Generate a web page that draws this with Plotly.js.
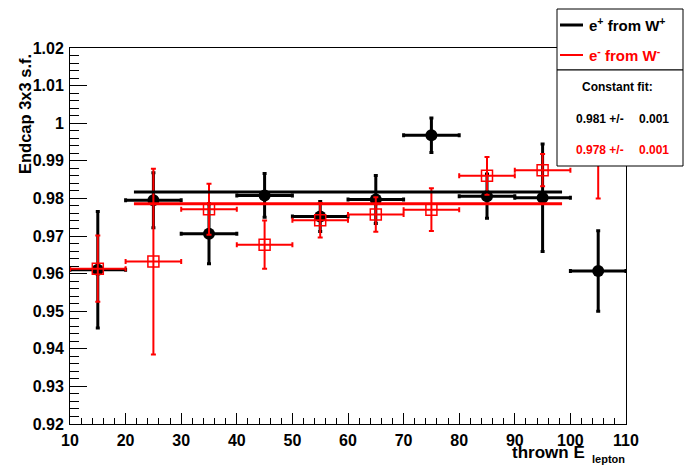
<!DOCTYPE html>
<html>
<head>
<meta charset="utf-8">
<script src="https://cdn.plot.ly/plotly-3.0.1.min.js"></script>
<style>html,body{margin:0;padding:0;background:#fff;}#chart{width:696px;height:472px;}</style>
</head>
<body>
<div id="chart"></div>
<script>
// ---- data ----
const binCenters = [15, 25, 35, 45, 55, 65, 75, 85, 95, 105];
const binHalfWidths = [5, 5, 5, 5, 5, 5, 5, 5, 5, 5];
const ePlusValues = [0.9610, 0.9795, 0.9706, 0.9808, 0.9752, 0.9797, 0.9968, 0.9806, 0.9802, 0.9607];
const ePlusErrors = [0.0155, 0.0073, 0.0080, 0.0058, 0.0040, 0.0064, 0.0046, 0.0059, 0.0143, 0.0107];
const eMinusValues = [0.9613, 0.9632, 0.9771, 0.9677, 0.9742, 0.9757, 0.9770, 0.9860, 0.9875, 0.9910];
const eMinusErrors = [0.0088, 0.0247, 0.0068, 0.0064, 0.0046, 0.0046, 0.0057, 0.0050, 0.0043, 0.0110];
const fitRange = [21.5, 98.5];
const fitValues = [0.9817, 0.9786];
const fitValueLabels = ["0.981 +/-", "0.978 +/-"];
const fitErrorLabels = ["0.001", "0.001"];
const seriesNames = ["e<sup>+</sup> from W<sup>+</sup>", "e<sup>-</sup> from W<sup>-</sup>"];
const seriesColors = ["#000000", "#ff0000"];
const xTickVals = [10, 20, 30, 40, 50, 60, 70, 80, 90, 100, 110];
const yTickVals = [0.92, 0.93, 0.94, 0.95, 0.96, 0.97, 0.98, 0.99, 1.00, 1.01, 1.02];
const xTitleMain = "thrown E";
const xTitleSub = "lepton";
const yTitle = "Endcap 3x3 s.f.";
const fitHeader = "Constant fit:";

// ---- layout geometry (pixels of the 696x472 canvas) ----
const W = 696, H = 472;
const M = {l: 70, r: 70, t: 48, b: 48};
const PW = W - M.l - M.r, PH = H - M.t - M.b;
const px = X => (X - M.l) / PW;
const py = Y => (H - M.b - Y) / PH;
const FONT = "Liberation Sans, Arial, sans-serif";

const traces = [
  {
    x: binCenters, y: ePlusValues, type: 'scatter', mode: 'markers', name: 'plus',
    marker: {symbol: 'circle', size: 12, color: seriesColors[0]},
    error_y: {type: 'data', array: ePlusErrors, visible: true, color: seriesColors[0], thickness: 3, width: 2},
    error_x: {type: 'data', array: binHalfWidths, visible: true, color: seriesColors[0], thickness: 3, width: 2},
    cliponaxis: false
  },
  {
    x: binCenters, y: eMinusValues, type: 'scatter', mode: 'markers', name: 'minus',
    marker: {symbol: 'square-open', size: 11, color: seriesColors[1], line: {width: 1.5, color: seriesColors[1]}},
    error_y: {type: 'data', array: eMinusErrors, visible: true, color: seriesColors[1], thickness: 2, width: 2.5},
    error_x: {type: 'data', array: binHalfWidths, visible: true, color: seriesColors[1], thickness: 2, width: 2.5},
    cliponaxis: false
  },
  {
    x: fitRange, y: [fitValues[0], fitValues[0]], type: 'scatter', mode: 'lines',
    line: {color: seriesColors[0], width: 3}
  },
  {
    x: fitRange, y: [fitValues[1], fitValues[1]], type: 'scatter', mode: 'lines',
    line: {color: seriesColors[1], width: 3}
  }
];

const shapes = [
  // legend box
  {type: 'rect', xref: 'paper', yref: 'paper', x0: px(557), x1: px(683), y0: py(70), y1: py(9),
   fillcolor: '#ffffff', line: {color: '#000', width: 1}, layer: 'above'},
  // fit box
  {type: 'rect', xref: 'paper', yref: 'paper', x0: px(557), x1: px(683), y0: py(166), y1: py(70),
   fillcolor: '#ffffff', line: {color: '#000', width: 1}, layer: 'above'},
  // legend samples
  {type: 'line', xref: 'paper', yref: 'paper', x0: px(560), x1: px(583), y0: py(25), y1: py(25),
   line: {color: seriesColors[0], width: 3}, layer: 'above'},
  {type: 'line', xref: 'paper', yref: 'paper', x0: px(560), x1: px(583), y0: py(55), y1: py(55),
   line: {color: seriesColors[1], width: 2}, layer: 'above'}
];

const bold = (size, color) => ({family: FONT, size: size, color: color || '#000', weight: 'bold'});

const annotations = [
  {xref: 'paper', yref: 'paper', x: px(587), y: py(25), xanchor: 'left', yanchor: 'middle',
   text: seriesNames[0], showarrow: false, font: bold(15, seriesColors[0])},
  {xref: 'paper', yref: 'paper', x: px(587), y: py(55), xanchor: 'left', yanchor: 'middle',
   text: seriesNames[1], showarrow: false, font: bold(15, seriesColors[1])},
  {xref: 'paper', yref: 'paper', x: px(617), y: py(87), xanchor: 'center', yanchor: 'middle',
   text: fitHeader, showarrow: false, font: bold(12)},
  {xref: 'paper', yref: 'paper', x: px(574), y: py(119), xanchor: 'left', yanchor: 'middle',
   text: fitValueLabels[0], showarrow: false, font: bold(12, seriesColors[0])},
  {xref: 'paper', yref: 'paper', x: px(637), y: py(119), xanchor: 'left', yanchor: 'middle',
   text: fitErrorLabels[0], showarrow: false, font: bold(12, seriesColors[0])},
  {xref: 'paper', yref: 'paper', x: px(574), y: py(150), xanchor: 'left', yanchor: 'middle',
   text: fitValueLabels[1], showarrow: false, font: bold(12, seriesColors[1])},
  {xref: 'paper', yref: 'paper', x: px(637), y: py(150), xanchor: 'left', yanchor: 'middle',
   text: fitErrorLabels[1], showarrow: false, font: bold(12, seriesColors[1])},
  // axis titles (ROOT style: aligned to the axis end)
  {xref: 'paper', yref: 'paper', x: px(25), y: py(52), xanchor: 'center', yanchor: 'top',
   text: yTitle, textangle: -90, showarrow: false, font: bold(16.5)},
  {xref: 'paper', yref: 'paper', x: px(587), y: py(452), xanchor: 'right', yanchor: 'middle',
   text: xTitleMain, showarrow: false, font: bold(17)},
  {xref: 'paper', yref: 'paper', x: px(590), y: py(459), xanchor: 'left', yanchor: 'middle',
   text: xTitleSub, showarrow: false, font: bold(11)}
];

const layout = {
  width: W, height: H,
  margin: M,
  paper_bgcolor: '#ffffff', plot_bgcolor: '#ffffff',
  showlegend: false,
  xaxis: {
    range: [10, 110], tickmode: 'array', tickvals: xTickVals,
    ticks: 'inside', ticklen: 11, tickwidth: 1, tickcolor: '#000',
    minor: {dtick: 2, tick0: 10, ticks: 'inside', ticklen: 6, tickwidth: 1, tickcolor: '#000', showgrid: false},
    showline: true, mirror: true, linecolor: '#000', linewidth: 1,
    showgrid: false, zeroline: false,
    tickfont: bold(16), ticklabelstandoff: 2
  },
  yaxis: {
    range: [0.92, 1.02], tickmode: 'array', tickvals: yTickVals,
    ticktext: yTickVals.map(v => String(Math.round(v * 100) / 100)),
    ticks: 'inside', ticklen: 17, tickwidth: 1, tickcolor: '#000',
    minor: {dtick: 0.002, tick0: 0.92, ticks: 'inside', ticklen: 9, tickwidth: 1, tickcolor: '#000', showgrid: false},
    showline: true, mirror: true, linecolor: '#000', linewidth: 1,
    showgrid: false, zeroline: false,
    tickfont: bold(16), ticklabelstandoff: 2
  },
  shapes: shapes,
  annotations: annotations
};

Plotly.newPlot('chart', traces, layout, {staticPlot: true, displayModeBar: false});
</script>
</body>
</html>
